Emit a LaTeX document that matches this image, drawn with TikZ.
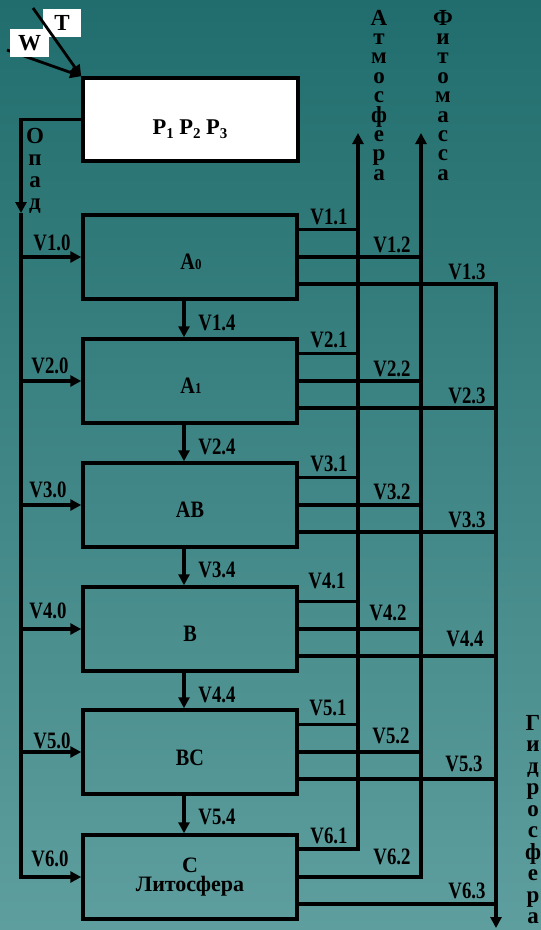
\documentclass[tikz,border=0pt]{standalone}
\usepackage{fontspec}
\setmainfont{Liberation Serif}
\newfontfamily\vlabfont{Liberation Serif}[FakeStretch=0.8]
\newfontfamily\blabfont{Liberation Serif}[FakeStretch=0.86]
\usetikzlibrary{arrows.meta,calc}
\definecolor{bgtop}{RGB}{33,109,109}
\definecolor{bgbot}{RGB}{94,158,158}
\newcommand\psub[1]{\raisebox{-4pt}{\fontsize{15}{15}\selectfont #1}}
\newcommand\asub[1]{{\fontsize{15}{15}\selectfont #1}}
\begin{document}
\begin{tikzpicture}[x=1pt,y=-1pt,
  lw/.style={line width=3.2pt},
  arr/.style={lw,-{Triangle[length=11pt,width=11pt]}},
  blk/.style={draw,line width=3.5pt,minimum width=214pt,minimum height=84pt,inner sep=0pt},
  vl/.style={font=\vlabfont\bfseries\fontsize{23.5}{23.5}\selectfont,inner sep=0pt},
  bl/.style={font=\blabfont\bfseries\fontsize{23.5}{19}\selectfont,inner sep=0pt},
  ltr/.style={font=\bfseries\fontsize{23}{23}\selectfont,inner sep=0pt,anchor=base,
    text height=11pt,text depth=1pt},
  wt/.style={fill=white,inner sep=0pt,minimum height=28pt,font=\bfseries\fontsize{23}{23}\selectfont},
]
\shade[top color=bgtop,bottom color=bgbot] (0,0) rectangle (541,930);
\useasboundingbox (0,0) rectangle (541,930);

% top box
\node[blk,fill=white,minimum width=215pt,minimum height=83pt] (p) at (190.5,119.5) {};
\node[font=\bfseries\fontsize{22.5}{22.5}\selectfont,inner sep=0pt,anchor=base] (ptxt) at (190,134) {P\psub{1} P\psub{2} P\psub{3}};

% W and T
\coordinate (wS) at (7,50);
\coordinate (tS) at (33,8);
\draw[arr,line width=2.8pt] (wS) -- (p.north west);
\node[wt,minimum width=39pt] (wl) at (29.5,43) {W};
\node[wt,minimum width=38pt] (tl) at (62,23) {T};
\draw[arr,line width=2.8pt] (tS) -- (p.north west);

% main boxes
\foreach \i/\c in {1/257,2/381,3/505,4/629,5/752,6/877}
  \node[blk] (b\i) at (190,\c) {};
\node[bl] (l1) at (191,261.5) {A\asub{0}};
\node[bl] (l2) at (191,385.5) {A\asub{1}};
\node[bl] (l3) at (190,509.5) {AB};
\node[bl] (l4) at (190,633.5) {B};
\node[bl] (l5) at (190,757.5) {BC};
\node[font=\bfseries\fontsize{22}{19}\selectfont,inner sep=0pt,align=center] (l6) at (190,877) {C\\Литосфера};

% left bus (Опад)
\coordinate (la) at (21,213);
\draw[arr] (p.west) -| (la);
\draw[arr] (la) |- (b6.west);
\foreach \i in {1,...,5} \draw[arr] (b\i.west -| la) -- (b\i.west);
\foreach \ch [count=\k from 0] in {О,п,а,д}
  \node[ltr] (op\k) at (35,{143+\k*22}) {\ch};

% vertical flows between boxes
\foreach \i/\j in {1/2,2/3,3/4,4/5,5/6}
  \draw[arr] ([xshift=-6pt]b\i.south) -- ([xshift=-6pt]b\j.north);

% right buses
\coordinate (atmT) at (358,133);
\coordinate (fitT) at (421,133);
\coordinate (hydB) at (496,928);
\draw[arr] ($(b6.east)+(0,-28)$) -| (atmT);
\draw[arr] (b6.east) -| (fitT);
\draw[arr] ($(b1.east)+(0,27)$) -| (hydB);
\foreach \i in {1,...,5} {
  \draw[lw] ($(b\i.east)+(0,-27.5)$) coordinate (s\i) -- (s\i -| atmT);
  \draw[lw] (b\i.east) -- (b\i.east -| fitT);
}
\foreach \i in {2,...,6}
  \draw[lw] ($(b\i.east)+(0,27)$) coordinate (h\i) -- (h\i -| hydB);

% vertical words
\foreach \ch [count=\k from 0] in {А,т,м,о,с,ф,е,р,а}
  \node[ltr] (at\k) at (379,{25+\k*19.4}) {\ch};
\foreach \ch [count=\k from 0] in {Ф,и,т,о,м,а,с,с,а}
  \node[ltr] (ft\k) at (443,{25+\k*19.4}) {\ch};
\foreach \ch [count=\k from 0] in {Г,и,д,р,о,с,ф,е,р,а}
  \node[ltr] (gd\k) at (533,{730+\k*21.5}) {\ch};

% flow labels
\foreach \x/\y/\t [count=\k] in {
  52/243/V1.0, 50/365.5/V2.0, 48/489.5/V3.0, 48/610.5/V4.0, 52/740.5/V5.0, 50/858.5/V6.0,
  329/217/V1.1, 329/340/V2.1, 329/464/V3.1, 327/580.5/V4.1, 328/707.5/V5.1, 329/835.5/V6.1,
  392/244.5/V1.2, 392/368.5/V2.2, 392/491.5/V3.2, 388/613/V4.2, 391/735.5/V5.2, 392/856.5/V6.2,
  467/272/V1.3, 467/395.5/V2.3, 467/519.5/V3.3, 465/639/V4.4, 464/763.5/V5.3, 467/890.5/V6.3,
  217/322.5/V1.4, 217/447/V2.4, 217/569.5/V3.4, 217/694.5/V4.4, 217/816.5/V5.4}
  \node[vl] (v\k) at (\x,\y) {\t};
\end{tikzpicture}
\end{document}
